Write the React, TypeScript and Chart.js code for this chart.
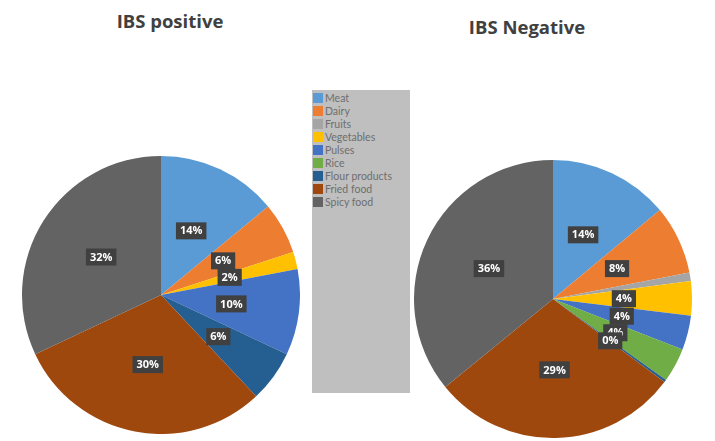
import React, { useEffect, useRef } from "react";
import { Chart, registerables } from "chart.js";

Chart.register(...registerables);

const categories = ["Meat", "Dairy", "Fruits", "Vegetables", "Pulses", "Rice", "Flour products", "Fried food", "Spicy food"];
const positiveValues = [14, 6, 0, 2, 10, 0, 6, 30, 32];
const negativeValues = [14, 8, 1, 4, 4, 4, 0.3, 29, 36];
const negativeHiddenLabels = ["Fruits"];
const colors = ["#5B9BD5", "#ED7D31", "#A5A5A5", "#FFC000", "#4472C4", "#70AD47", "#255E91", "#9E480E", "#636363"];
const titles = ["IBS positive", "IBS Negative"];

const makeLabelPlugin = (hidden: string[]) => ({
  id: "boxLabels",
  afterDatasetsDraw(chart: any) {
    const ctx = chart.ctx;
    const meta = chart.getDatasetMeta(0);
    const data = chart.data.datasets[0].data as number[];
    const labels = chart.data.labels as string[];
    const total = data.reduce((a: number, b: number) => a + b, 0);
    ctx.save();
    ctx.font = "bold 11px 'Open Sans', sans-serif";
    ctx.textAlign = "center";
    ctx.textBaseline = "middle";
    meta.data.forEach((arc: any, i: number) => {
      const v = data[i];
      if (!v || hidden.includes(labels[i])) return;
      const p = arc.getProps(["x", "y", "startAngle", "endAngle", "outerRadius"], true);
      const mid = (p.startAngle + p.endAngle) / 2;
      const r = p.outerRadius * 0.51;
      const x = p.x + Math.cos(mid) * r;
      const y = p.y + Math.sin(mid) * r;
      const txt = Math.round((v / total) * 100) + "%";
      const w = ctx.measureText(txt).width + 8;
      const h = 17;
      ctx.fillStyle = "#404040";
      ctx.fillRect(x - w / 2, y - h / 2, w, h);
      ctx.fillStyle = "#ffffff";
      ctx.fillText(txt, x, y + 0.5);
    });
    ctx.restore();
  },
});

function PieCanvas({ values, hidden, style }: { values: number[]; hidden: string[]; style: React.CSSProperties }) {
  const ref = useRef<HTMLCanvasElement>(null);
  useEffect(() => {
    const chart = new Chart(ref.current!, {
      type: "pie",
      data: {
        labels: categories,
        datasets: [{ data: values, backgroundColor: colors, borderWidth: 0 }],
      },
      options: {
        animation: false,
        responsive: false,
        maintainAspectRatio: false,
        layout: { padding: 0 },
        plugins: { legend: { display: false }, tooltip: { enabled: false } },
      },
      plugins: [makeLabelPlugin(hidden)],
    });
    return () => chart.destroy();
  }, []);
  return <canvas ref={ref} width={278} height={278} style={{ position: "absolute", width: 278, height: 278, ...style }} />;
}

export default function App() {
  const titleStyle: React.CSSProperties = {
    position: "absolute",
    fontFamily: "'Open Sans', sans-serif",
    fontWeight: 700,
    fontSize: 18.5,
    color: "#404040",
    whiteSpace: "nowrap",
    transform: "translateX(-50%)",
  };
  return (
    <div style={{ position: "fixed", left: 0, top: 0, width: 715, height: 441, background: "#fff", overflow: "hidden" }}>
      <div style={{ ...titleStyle, left: 170, top: 8 }}>{titles[0]}</div>
      <div style={{ ...titleStyle, left: 527, top: 14 }}>{titles[1]}</div>
      <PieCanvas values={positiveValues} hidden={[]} style={{ left: 22, top: 156 }} />
      <PieCanvas values={negativeValues} hidden={negativeHiddenLabels} style={{ left: 414, top: 160 }} />
      <div style={{ position: "absolute", left: 312, top: 90, width: 98, height: 303, background: "#bfbfbf" }}>
        {categories.map((c, i) => (
          <div key={c} style={{ position: "absolute", left: 1, top: 1 + i * 13.1, height: 13, display: "flex", alignItems: "center", whiteSpace: "nowrap" }}>
            <span style={{ width: 10, height: 10, background: colors[i], display: "inline-block", marginRight: 2 }} />
            <span style={{ fontFamily: "Lato, sans-serif", fontSize: 10.5, color: "#6e6e6e" }}>{c}</span>
          </div>
        ))}
      </div>
    </div>
  );
}
